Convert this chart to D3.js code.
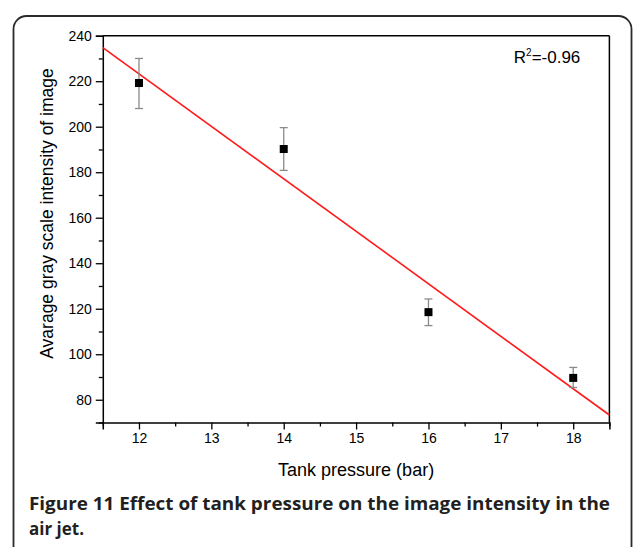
<!DOCTYPE html>
<html>
<head>
<meta charset="utf-8">
<script src="https://cdn.jsdelivr.net/npm/d3@7"></script>
<style>
  html, body { margin: 0; padding: 0; background: #fff; }
  svg { display: block; }
</style>
</head>
<body>
<div id="chart"></div>
<script>
// Données
const pressures = [12, 14, 16, 18];
const intensity = [219.2, 190.2, 118.5, 89.6];
const errLow = [208, 180.8, 112.6, 85.4];
const errHigh = [230, 199.6, 124.3, 94.2];

// Droite de régression (extrémités)
const fitX = [11.5, 18.5];
const fitY = [234.8, 73.3];

const xTicks = [12, 13, 14, 15, 16, 17, 18];
const yTicks = [80, 100, 120, 140, 160, 180, 200, 220, 240];
const xMinor = [11.5, 12.5, 13.5, 14.5, 15.5, 16.5, 17.5, 18.5];
const yMinor = [70, 90, 110, 130, 150, 170, 190, 210, 230];

const W = 634, H = 547;
const margin = { top: 35.7, right: 24.6, bottom: 124.5, left: 102.8 };
const width = W - margin.left - margin.right;
const height = H - margin.top - margin.bottom;

const svg = d3.select('#chart')
    .append('svg')
    .attr('width', W)
    .attr('height', H);

// Cadre arrondi
svg.append('rect')
    .attr('x', 13.5)
    .attr('y', 16)
    .attr('width', 618)
    .attr('height', 560)
    .attr('rx', 13)
    .attr('fill', 'none')
    .attr('stroke', '#2b2b2b')
    .attr('stroke-width', 1.8);

const g = svg.append('g')
    .attr('transform', `translate(${margin.left},${margin.top})`);

// Échelles
const x = d3.scaleLinear().domain([11.5, 18.5]).range([0, width]);
const y = d3.scaleLinear().domain([70, 240]).range([height, 0]);

const font = '"Liberation Sans", Arial, sans-serif';

// Axe bas
g.append('g')
    .attr('transform', `translate(0,${height})`)
    .call(d3.axisBottom(x).tickValues(xTicks).tickSize(7).tickPadding(4).tickFormat(d3.format('d')));
g.append('g')
    .attr('transform', `translate(0,${height})`)
    .call(d3.axisBottom(x).tickValues(xMinor).tickSize(4).tickFormat(''))
    .call(a => a.select('.domain').remove());

// Axe gauche
g.append('g')
    .call(d3.axisLeft(y).tickValues(yTicks).tickSize(7).tickPadding(4).tickFormat(d3.format('d')));
g.append('g')
    .call(d3.axisLeft(y).tickValues(yMinor).tickSize(4).tickFormat(''))
    .call(a => a.select('.domain').remove());

g.selectAll('.domain').attr('stroke', '#000').attr('stroke-width', 1.5);
g.selectAll('.tick line').attr('stroke', '#000').attr('stroke-width', 1.3);
g.selectAll('.tick text')
    .attr('font-family', font)
    .attr('font-size', 14)
    .attr('fill', '#000');

// Haut et droite
g.append('line')
    .attr('x1', 0).attr('x2', width).attr('y1', 0).attr('y2', 0)
    .attr('stroke', '#000').attr('stroke-width', 1.5);
g.append('line')
    .attr('x1', width).attr('x2', width).attr('y1', 0).attr('y2', height)
    .attr('stroke', '#000').attr('stroke-width', 1.5);

// Droite de régression
g.append('line')
    .attr('x1', x(fitX[0])).attr('y1', y(fitY[0]))
    .attr('x2', x(fitX[1])).attr('y2', y(fitY[1]))
    .attr('stroke', '#ff1a1a')
    .attr('stroke-width', 1.6);

// Barres d'erreur
const data = pressures.map((p, i) => ({ p, v: intensity[i], lo: errLow[i], hi: errHigh[i] }));

const eb = g.selectAll('.err')
    .data(data)
    .enter()
    .append('g')
    .attr('class', 'err')
    .attr('stroke', '#8a8a8a')
    .attr('stroke-width', 1.3);
eb.append('line')
    .attr('x1', d => x(d.p)).attr('x2', d => x(d.p))
    .attr('y1', d => y(d.lo)).attr('y2', d => y(d.hi));
eb.append('line')
    .attr('x1', d => x(d.p) - 4).attr('x2', d => x(d.p) + 4)
    .attr('y1', d => y(d.lo)).attr('y2', d => y(d.lo));
eb.append('line')
    .attr('x1', d => x(d.p) - 4).attr('x2', d => x(d.p) + 4)
    .attr('y1', d => y(d.hi)).attr('y2', d => y(d.hi));

// Points
g.selectAll('.pt')
    .data(data)
    .enter()
    .append('rect')
    .attr('class', 'pt')
    .attr('x', d => x(d.p) - 4)
    .attr('y', d => y(d.v) - 4)
    .attr('width', 8)
    .attr('height', 8)
    .attr('fill', '#000');

// R²
const r2 = g.append('text')
    .attr('x', 411)
    .attr('y', 27.5)
    .attr('font-family', font)
    .attr('font-size', 17)
    .attr('fill', '#000');
r2.append('tspan').text('R');
r2.append('tspan').attr('font-size', 10).attr('dy', -7).text('2');
r2.append('tspan').attr('dy', 7).text('=-0.96');

// Titres des axes
g.append('text')
    .attr('x', width / 2)
    .attr('y', height + 53.5)
    .attr('text-anchor', 'middle')
    .attr('font-family', font)
    .attr('font-size', 18)
    .attr('fill', '#000')
    .text('Tank pressure (bar)');

g.append('text')
    .attr('transform', `translate(${-49.5},${177.8}) rotate(-90)`)
    .attr('text-anchor', 'middle')
    .attr('font-family', font)
    .attr('font-size', 17.5)
    .attr('fill', '#000')
    .text('Avarage gray scale intensity of image');

// Légende de la figure
const cap = svg.append('text')
    .attr('font-family', '"Open Sans", "Noto Sans", sans-serif')
    .attr('font-weight', 'bold')
    .attr('font-size', 17)
    .attr('fill', '#231f20');
cap.append('tspan')
    .attr('x', 29).attr('y', 510)
    .attr('textLength', 581)
    .attr('lengthAdjust', 'spacingAndGlyphs')
    .text('Figure 11 Effect of tank pressure on the image intensity in the');
cap.append('tspan')
    .attr('x', 29).attr('y', 535)
    .text('air jet.');
</script>
</body>
</html>
